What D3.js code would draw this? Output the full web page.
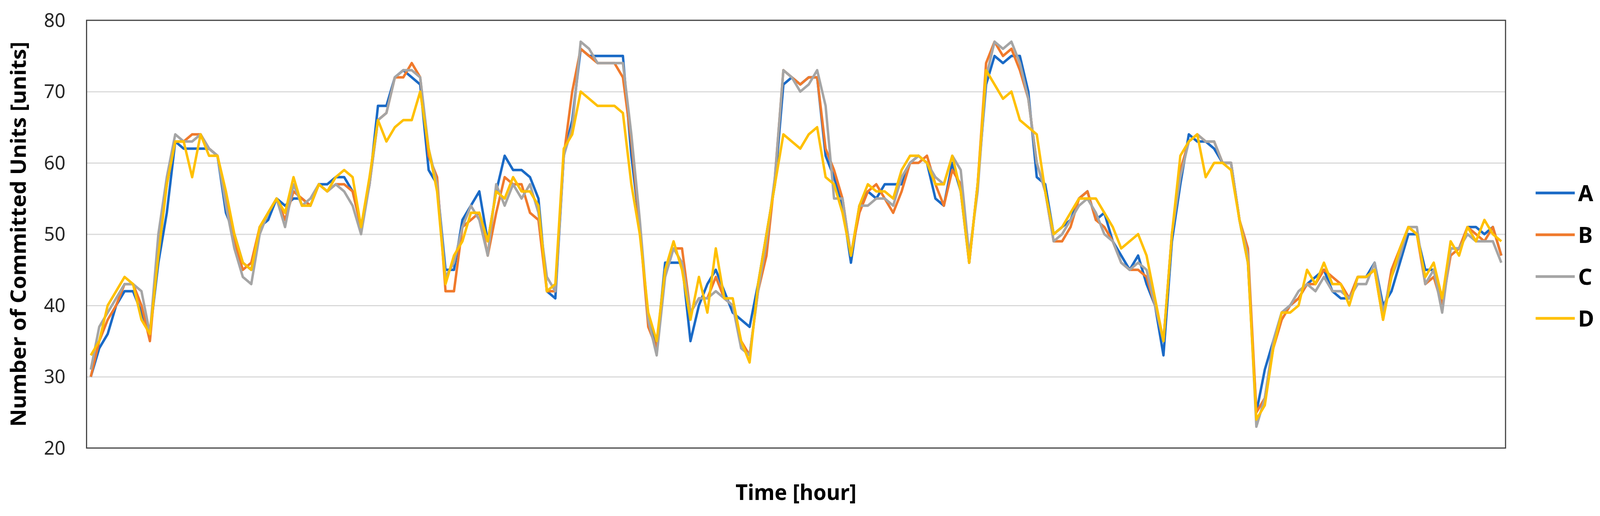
<!DOCTYPE html>
<html>
<head>
<meta charset="utf-8">
<script src="https://cdn.jsdelivr.net/npm/d3@7"></script>
<style>
  html, body { margin: 0; padding: 0; background: #fff; overflow: hidden; }
  svg { display: block; }
  text { font-family: "Noto Sans", "DejaVu Sans", sans-serif; }
</style>
</head>
<body>
<svg id="chart"></svg>
<script>
// hourly committed units, one value per hour (168 hours)
const seriesA = [30,34,36,40,42,42,39,36,46,53,63,62,62,62,62,61,53,50,46,45,51,52,55,54,55,55,54,57,57,58,
  58,56,51,57,68,68,72,73,72,71,59,57,45,45,52,54,56,49,56,61,59,59,58,55,42,41,61,66,76,75,
  75,75,75,75,61,51,38,34,46,46,46,35,40,43,45,42,39,38,37,43,50,57,71,72,71,72,72,61,58,54,
  46,54,56,55,57,57,57,60,61,60,55,54,60,56,46,57,71,75,74,75,75,70,58,57,50,51,52,55,56,52,
  53,49,47,45,47,43,40,33,49,57,64,63,63,62,60,60,52,46,25,31,35,39,40,41,43,44,45,42,41,41,
  44,44,46,40,42,46,50,50,45,45,40,48,48,51,51,50,51,47];
const seriesB = [30,35,38,40,43,43,40,35,48,57,63,63,64,64,62,61,55,49,45,46,51,53,55,52,56,55,54,57,56,57,
  57,56,51,57,66,67,72,72,74,72,61,58,42,42,51,52,53,47,53,58,57,57,53,52,42,42,61,70,76,75,
  74,74,74,72,63,51,37,34,45,48,48,39,41,41,44,41,40,35,33,42,47,58,73,72,71,72,72,62,59,55,
  47,53,56,57,55,53,56,60,60,61,57,54,59,57,46,57,74,77,75,76,73,69,60,56,49,49,51,55,56,52,
  51,49,46,45,45,44,40,35,50,59,63,64,63,63,60,60,52,48,25,27,34,38,40,41,43,43,45,44,43,41,
  44,44,45,38,45,48,51,50,43,44,40,47,48,51,50,49,51,47];
const seriesC = [31,37,39,41,43,43,42,36,50,58,64,63,63,64,62,61,54,48,44,43,50,53,55,51,57,54,55,57,56,57,
  56,54,50,57,66,67,72,73,73,72,62,57,44,46,51,54,52,47,57,54,57,55,57,53,44,42,61,65,77,76,
  74,74,74,74,64,52,38,33,44,48,46,39,41,41,42,41,40,34,33,42,49,58,73,72,70,71,73,68,55,55,
  47,54,54,55,55,54,58,60,61,60,58,57,61,59,47,56,72,77,76,77,74,69,60,56,49,50,52,54,55,53,
  50,49,46,45,46,45,40,35,50,58,63,64,63,63,60,60,52,47,23,27,35,39,40,42,43,42,44,42,42,41,
  43,43,46,39,44,47,51,51,43,45,39,48,48,50,49,49,49,46];
const seriesD = [33,35,40,42,44,43,38,36,47,57,63,63,58,64,61,61,56,50,46,45,51,53,55,53,58,54,54,57,56,58,
  59,58,51,58,66,63,65,66,66,70,62,56,43,47,49,53,53,49,56,55,58,56,56,54,42,43,62,64,70,69,
  68,68,68,67,57,50,39,35,45,49,45,38,44,39,48,41,41,35,32,43,50,57,64,63,62,64,65,58,57,53,
  47,54,57,56,56,55,59,61,61,60,57,57,61,56,46,57,73,71,69,70,66,65,64,56,50,51,53,55,55,55,
  53,51,48,49,50,47,41,35,50,61,63,64,58,60,60,59,52,46,24,26,34,39,39,40,45,43,46,43,43,40,
  44,44,45,38,44,48,51,50,44,46,41,49,47,51,49,52,50,49];

const seriesNames = ["A", "B", "C", "D"];
const seriesColors = ["#1a6ac6", "#f07a2c", "#a5a5a5", "#ffc000"];
const yTicks = [20, 30, 40, 50, 60, 70, 80];
const hours = seriesA.map((d, i) => i + 1);

const W = 4251, H = 1321;
const plot = { left: 230, right: 4000, top: 52, bottom: 1147 };

// scale the drawing to whatever the viewport really is
const svg = d3.select("#chart")
  .attr("viewBox", `0 0 ${W} ${H}`)
  .attr("preserveAspectRatio", "none")
  .attr("width", window.innerWidth || W)
  .attr("height", window.innerHeight || H);
svg.append("rect").attr("width", W).attr("height", H).attr("fill", "#fff");

const x = d3.scalePoint()
  .domain(hours)
  .range([plot.left, plot.right])
  .padding(0.5);

const y = d3.scaleLinear()
  .domain([20, 80])
  .range([plot.bottom, plot.top]);

// gridlines
svg.append("g")
  .attr("transform", `translate(${plot.left},0)`)
  .call(d3.axisLeft(y).tickValues(yTicks.slice(1, -1)).tickSize(-(plot.right - plot.left)).tickFormat(""))
  .call(g => g.select(".domain").remove())
  .call(g => g.selectAll("line").attr("stroke", "#d9d9d9").attr("stroke-width", 3));

// tick labels
svg.append("g")
  .attr("transform", `translate(${plot.left},0)`)
  .call(d3.axisLeft(y).tickValues(yTicks).tickSize(0).tickPadding(56))
  .call(g => g.select(".domain").remove())
  .call(g => g.selectAll("text")
    .attr("font-size", "50px")
    .attr("fill", "#262626")
    .style("font-family", "'Noto Sans', sans-serif"));

// lines
const series = [seriesA, seriesB, seriesC, seriesD];
const line = d3.line().x((d, i) => x(hours[i])).y(d => y(d));

series.forEach((vals, k) => {
  svg.append("path")
    .datum(vals)
    .attr("fill", "none")
    .attr("stroke", seriesColors[k])
    .attr("stroke-width", 6.5)
    .attr("stroke-linejoin", "round")
    .attr("d", line);
});

// plot border
svg.append("rect")
  .attr("x", plot.left)
  .attr("y", plot.top)
  .attr("width", plot.right - plot.left)
  .attr("height", plot.bottom - plot.top)
  .attr("fill", "none")
  .attr("stroke", "#404040")
  .attr("stroke-width", 3);

// axis titles
svg.append("text")
  .attr("transform", `translate(68,${(plot.top + plot.bottom) / 2}) rotate(-90)`)
  .attr("text-anchor", "middle")
  .attr("font-size", "56px")
  .attr("font-weight", "bold")
  .attr("fill", "#000")
  .text("Number of Committed Units [units]");

svg.append("text")
  .attr("x", (plot.left + plot.right) / 2)
  .attr("y", 1280)
  .attr("text-anchor", "middle")
  .attr("font-size", "56px")
  .attr("font-weight", "bold")
  .attr("fill", "#000")
  .text("Time [hour]");

// legend
const legend = svg.append("g");
seriesNames.forEach((name, k) => {
  const ly = 494 + k * 107;
  legend.append("line")
    .attr("x1", 4080).attr("x2", 4184)
    .attr("y1", ly).attr("y2", ly)
    .attr("stroke", seriesColors[k])
    .attr("stroke-width", 7);
  legend.append("text")
    .attr("x", 4193)
    .attr("y", ly)
    .attr("dy", "0.36em")
    .attr("font-size", "58px")
    .attr("font-weight", "bold")
    .attr("fill", "#000")
    .text(name);
});
</script>
</body>
</html>
